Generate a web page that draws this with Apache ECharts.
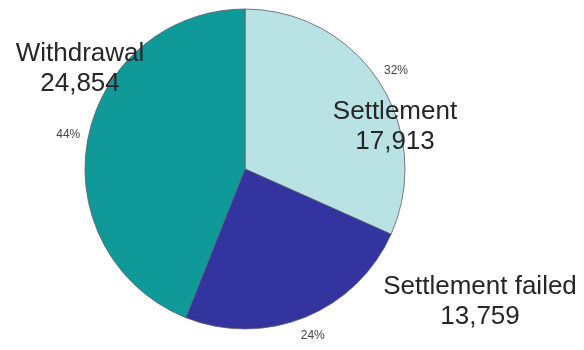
<!DOCTYPE html>
<html>
<head>
<meta charset="utf-8">
<style>
  html, body { margin: 0; padding: 0; background: #fff; }
  #chart { width: 584px; height: 350px; }
</style>
<script src="https://cdn.jsdelivr.net/npm/echarts@6/dist/echarts.min.js"></script>
</head>
<body>
<div id="chart"></div>
<script>
// Transaction outcomes
var categories = ['Settlement', 'Settlement failed', 'Withdrawal'];
var counts = [17913, 13759, 24854];
var sliceColors = ['#b8e2e4', '#3434a0', '#0f9a99'];

// Where each name/value label block is centred
var nameLabelSpots = [[395, 127], [480, 302], [80, 69]];

var pieCenter = [245, 169];
var pieRadius = 160;

var sliceData = categories.map(function (name, i) {
  return { name: name, value: counts[i], itemStyle: { color: sliceColors[i] } };
});
var ringData = categories.map(function (name, i) {
  return { name: name, value: counts[i] };
});

var chart = echarts.init(document.getElementById('chart'), null, { renderer: 'canvas' });

chart.setOption({
  animation: false,
  series: [
    {
      // the pie itself, with name + count labels
      type: 'pie',
      center: pieCenter,
      radius: pieRadius,
      startAngle: 90,
      clockwise: true,
      silent: true,
      avoidLabelOverlap: false,
      itemStyle: { borderColor: '#5a5a6a', borderWidth: 0.8 },
      label: {
        show: true,
        position: 'outside',
        formatter: function (p) {
          return p.name + '\n' + p.value.toLocaleString('en-US');
        },
        fontFamily: 'Liberation Sans, Arial, sans-serif',
        fontSize: 26,
        lineHeight: 30,
        color: '#262626',
        align: 'center',
        overflow: 'none',
        width: 260
      },
      labelLine: { show: false },
      labelLayout: function (params) {
        var spot = nameLabelSpots[params.dataIndex];
        return { x: spot[0], y: spot[1], align: 'center', verticalAlign: 'middle' };
      },
      emphasis: { disabled: true },
      data: sliceData
    },
    {
      // invisible outer ring that carries the percentage labels
      type: 'pie',
      center: pieCenter,
      radius: [pieRadius, pieRadius + 34],
      startAngle: 90,
      clockwise: true,
      silent: true,
      itemStyle: { color: 'rgba(0,0,0,0)', borderWidth: 0 },
      label: {
        show: true,
        position: 'inside',
        formatter: function (p) { return Math.round(p.percent) + '%'; },
        fontFamily: 'Liberation Sans, Arial, sans-serif',
        fontSize: 12,
        color: '#444444'
      },
      labelLine: { show: false },
      emphasis: { disabled: true },
      data: ringData
    }
  ]
});
</script>
</body>
</html>
